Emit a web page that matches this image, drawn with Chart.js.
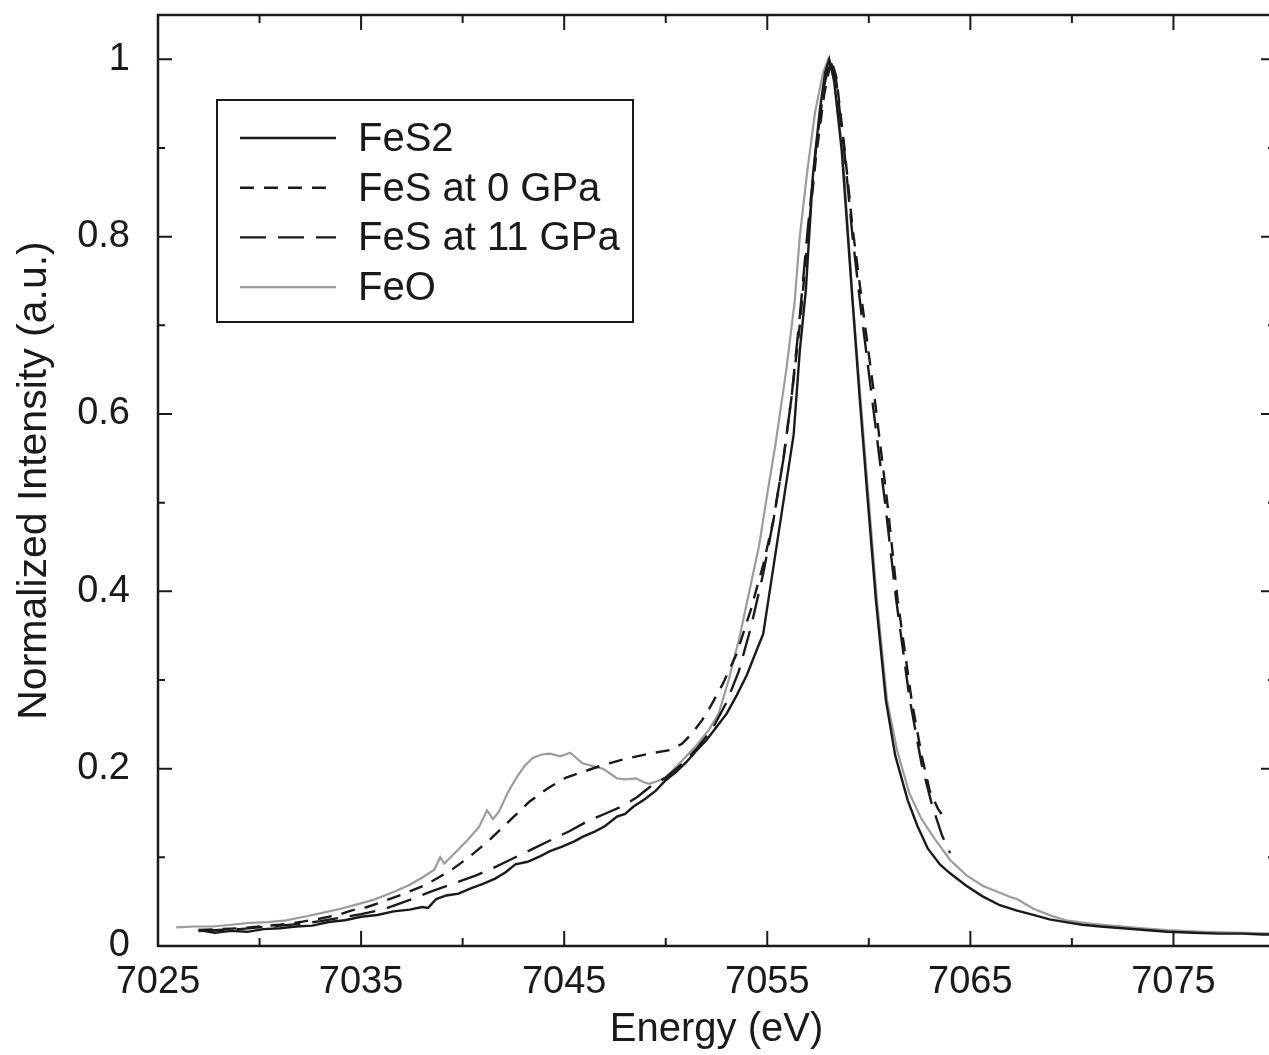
<!DOCTYPE html>
<html>
<head>
<meta charset="utf-8">
<script src="https://cdn.jsdelivr.net/npm/chart.js@4.4.1/dist/chart.umd.min.js"></script>
<style>
  html, body { margin: 0; padding: 0; background: #fff; overflow: hidden; }
  #wrap { width: 1290px; height: 1055px; }
</style>
</head>
<body>
<div id="wrap"><canvas id="xanes" width="1290" height="1055"></canvas></div>
<script>
// tick values / labels
const xTicks = [7025, 7035, 7045, 7055, 7065, 7075];
const yTicks = [0, 0.2, 0.4, 0.6, 0.8, 1];
const yTickLabels = ['0', '0.2', '0.4', '0.6', '0.8', '1'];

const seriesNames = ['FeS2', 'FeS at 0 GPa', 'FeS at 11 GPa', 'FeO'];

// [energy eV, normalized intensity]
const feS2Points = [
  [7027.0,0.018],[7027.8,0.015],[7028.6,0.017],[7029.4,0.016],[7030.2,0.019],[7031.0,0.020],
  [7031.8,0.022],[7032.6,0.023],[7033.4,0.027],[7034.2,0.029],[7035.0,0.033],[7035.8,0.035],
  [7036.6,0.039],[7037.4,0.041],[7038.0,0.044],[7038.3,0.043],[7038.7,0.053],[7039.2,0.057],
  [7039.8,0.059],[7040.4,0.065],[7041.0,0.070],[7041.6,0.076],[7042.1,0.083],[7042.6,0.092],
  [7043.2,0.095],[7043.8,0.101],[7044.3,0.107],[7044.9,0.112],[7045.5,0.118],[7045.9,0.123],
  [7046.5,0.129],[7047.0,0.135],[7047.6,0.146],[7048.0,0.149],[7048.4,0.157],[7049.0,0.166],
  [7049.5,0.175],[7050.0,0.187],[7050.5,0.196],[7051.0,0.207],[7051.5,0.220],[7052.0,0.232],
  [7052.5,0.247],[7053.0,0.262],[7053.5,0.283],[7054.0,0.306],[7054.5,0.335],[7054.8,0.352],
  [7055.3,0.427],[7055.8,0.502],[7056.3,0.577],[7056.6,0.671],[7056.9,0.740],[7057.25,0.870],
  [7057.6,0.945],[7057.85,0.985],[7058.05,1.0],[7058.3,0.975],[7058.67,0.896],[7059.2,0.727],
  [7059.56,0.615],[7059.95,0.502],[7060.35,0.390],[7060.84,0.277],[7061.3,0.215],[7061.92,0.164],
  [7062.4,0.135],[7062.9,0.110],[7063.5,0.092],[7064.0,0.082],[7064.8,0.068],[7065.6,0.056],
  [7066.45,0.046],[7067.3,0.040],[7068.1,0.035],[7068.9,0.030],[7069.7,0.027],[7070.5,0.024],
  [7071.4,0.022],[7072.5,0.020],[7073.6,0.018],[7074.7,0.016],[7076.0,0.015],[7077.2,0.014],
  [7078.4,0.014],[7079.4,0.013],[7080.0,0.013]
];

const feS0Points = [
  [7027.0,0.018],[7028.0,0.019],[7029.0,0.020],[7030.0,0.022],[7031.0,0.024],[7032.0,0.027],
  [7033.0,0.031],[7034.0,0.036],[7034.5,0.040],[7035.3,0.044],[7036.05,0.050],[7037.0,0.058],
  [7038.1,0.068],[7039.4,0.085],[7040.3,0.100],[7041.3,0.119],[7042.3,0.141],[7043.3,0.163],
  [7044.2,0.178],[7045.1,0.190],[7046.0,0.197],[7046.9,0.204],[7048.0,0.211],[7049.2,0.217],
  [7050.2,0.221],[7050.8,0.228],[7051.3,0.240],[7051.8,0.255],[7052.2,0.270],[7052.8,0.295],
  [7053.5,0.330],[7054.2,0.380],[7054.8,0.430],[7055.3,0.480],[7055.8,0.550],[7056.2,0.620],
  [7056.6,0.700],[7057.0,0.800],[7057.4,0.890],[7057.8,0.960],[7058.15,1.0],[7058.4,0.980],
  [7058.8,0.900],[7059.2,0.810],[7059.66,0.727],[7060.3,0.615],[7060.9,0.502],[7061.42,0.390],
  [7062.11,0.277],[7062.6,0.215],[7063.0,0.175],[7063.4,0.155],[7063.7,0.145]
];

const feS11Points = [
  [7027.0,0.017],[7028.0,0.018],[7029.0,0.019],[7030.0,0.021],[7031.0,0.023],[7032.0,0.025],
  [7033.0,0.028],[7034.0,0.032],[7035.0,0.036],[7036.05,0.041],[7037.4,0.052],[7038.5,0.062],
  [7039.5,0.070],[7040.7,0.080],[7041.5,0.088],[7042.5,0.099],[7043.4,0.109],[7044.3,0.119],
  [7045.3,0.130],[7046.25,0.142],[7047.1,0.150],[7047.9,0.158],[7048.6,0.168],[7049.2,0.179],
  [7050.0,0.190],[7050.8,0.205],[7051.5,0.222],[7052.3,0.245],[7053.0,0.275],[7053.6,0.310],
  [7054.2,0.360],[7054.8,0.420],[7055.3,0.480],[7055.8,0.550],[7056.2,0.620],[7056.6,0.710],
  [7057.0,0.810],[7057.4,0.900],[7057.8,0.970],[7058.1,1.0],[7058.4,0.975],[7058.8,0.895],
  [7059.2,0.800],[7059.6,0.720],[7060.2,0.610],[7060.8,0.500],[7061.35,0.390],[7062.0,0.280],
  [7062.6,0.205],[7063.1,0.160],[7063.6,0.125],[7064.0,0.105]
];

const feOPoints = [
  [7025.9,0.021],[7026.8,0.022],[7027.7,0.022],[7028.6,0.024],[7029.5,0.026],[7030.4,0.027],
  [7031.3,0.029],[7032.2,0.033],[7033.2,0.038],[7034.0,0.042],[7034.8,0.047],[7035.6,0.052],
  [7036.5,0.060],[7037.3,0.068],[7038.0,0.077],[7038.6,0.086],[7038.9,0.100],[7039.1,0.093],
  [7039.75,0.108],[7040.3,0.121],[7040.8,0.134],[7041.2,0.153],[7041.5,0.143],[7041.8,0.152],
  [7042.2,0.172],[7042.65,0.190],[7043.05,0.203],[7043.45,0.212],[7043.9,0.216],[7044.3,0.217],
  [7044.8,0.214],[7045.3,0.218],[7045.6,0.212],[7045.9,0.206],[7046.4,0.203],[7046.9,0.200],
  [7047.3,0.194],[7047.6,0.189],[7048.0,0.188],[7048.55,0.189],[7048.9,0.185],[7049.2,0.183],
  [7049.6,0.186],[7050.0,0.190],[7050.8,0.209],[7051.5,0.226],[7052.1,0.243],[7052.6,0.262],
  [7053.1,0.300],[7053.6,0.345],[7054.1,0.398],[7054.6,0.452],[7055.0,0.510],[7055.4,0.565],
  [7055.95,0.652],[7056.35,0.727],[7056.6,0.800],[7056.95,0.870],[7057.35,0.940],[7057.75,0.985],
  [7058.0,1.0],[7058.25,0.980],[7058.7,0.900],[7059.2,0.730],[7059.6,0.615],[7060.0,0.502],
  [7060.4,0.390],[7060.9,0.277],[7061.4,0.220],[7062.0,0.172],[7062.6,0.143],[7063.3,0.119],
  [7064.0,0.097],[7064.8,0.080],[7065.6,0.068],[7066.45,0.060],[7067.0,0.055],[7067.3,0.053],
  [7068.1,0.042],[7069.0,0.034],[7069.7,0.029],[7071.0,0.025],[7072.5,0.022],[7073.5,0.020],
  [7074.7,0.018],[7076.5,0.016],[7078.0,0.015],[7080.0,0.014]
];

const FONT = '"Liberation Sans", Arial, sans-serif';
const INK = '#1a1a1a';

const toXY = pts => pts.map(p => ({ x: p[0], y: p[1] }));

const datasets = [
  { label: seriesNames[0], data: toXY(feS2Points), borderColor: INK, borderWidth: 2.4, borderDash: [] },
  { label: seriesNames[1], data: toXY(feS0Points), borderColor: INK, borderWidth: 2.4, borderDash: [14, 10] },
  { label: seriesNames[2], data: toXY(feS11Points), borderColor: INK, borderWidth: 2.4, borderDash: [26, 12] },
  { label: seriesNames[3], data: toXY(feOPoints), borderColor: '#9c9c9c', borderWidth: 2.2, borderDash: [] }
];

// frame + inward ticks on all four sides
const framePlugin = {
  id: 'frame',
  afterDraw(chart) {
    const { ctx, chartArea: a, scales } = chart;
    ctx.save();
    ctx.strokeStyle = INK;
    ctx.lineWidth = 2.5;
    ctx.strokeRect(a.left, a.top, a.right - a.left, a.bottom - a.top);
    ctx.lineWidth = 2;
    ctx.beginPath();
    for (let e = 7025; e <= 7080; e += 5) {
      const px = scales.x.getPixelForValue(e);
      const len = (e - 7025) % 10 === 0 ? 15 : 8;
      ctx.moveTo(px, a.bottom); ctx.lineTo(px, a.bottom - len);
      ctx.moveTo(px, a.top); ctx.lineTo(px, a.top + len);
    }
    for (let i = 0; i <= 10; i++) {
      const py = scales.y.getPixelForValue(i / 10);
      const len = i % 2 === 0 ? 14 : 7;
      ctx.moveTo(a.left, py); ctx.lineTo(a.left + len, py);
      ctx.moveTo(a.right, py); ctx.lineTo(a.right - len, py);
    }
    ctx.stroke();
    ctx.restore();
  }
};

// boxed legend inside the plot, upper left
const boxLegend = {
  id: 'boxLegend',
  afterDraw(chart) {
    const { ctx, chartArea: a } = chart;
    const bx = a.left + 59, by = a.top + 85, bw = 416, bh = 222;
    ctx.save();
    ctx.fillStyle = '#fff';
    ctx.fillRect(bx, by, bw, bh);
    ctx.strokeStyle = INK;
    ctx.lineWidth = 2;
    ctx.strokeRect(bx, by, bw, bh);
    chart.data.datasets.forEach((ds, i) => {
      const ry = by + 38 + i * 49.7;
      ctx.beginPath();
      ctx.setLineDash(ds.borderDash);
      ctx.strokeStyle = ds.borderColor;
      ctx.lineWidth = ds.borderWidth;
      ctx.moveTo(bx + 23, ry);
      ctx.lineTo(bx + 119, ry);
      ctx.stroke();
      ctx.setLineDash([]);
      ctx.fillStyle = INK;
      ctx.font = '40px ' + FONT;
      ctx.textBaseline = 'middle';
      ctx.textAlign = 'left';
      ctx.fillText(ds.label, bx + 141, ry + 2);
    });
    ctx.restore();
  }
};

new Chart(document.getElementById('xanes'), {
  type: 'line',
  data: { datasets },
  options: {
    responsive: false,
    animation: false,
    devicePixelRatio: 1,
    parsing: true,
    elements: { point: { radius: 0 }, line: { tension: 0, fill: false } },
    layout: { padding: { top: 15, right: 15, left: 0, bottom: 0 } },
    plugins: { legend: { display: false }, tooltip: { enabled: false } },
    scales: {
      x: {
        type: 'linear', min: 7025, max: 7080,
        grid: { display: false, drawTicks: false },
        border: { display: false },
        afterBuildTicks: s => { s.ticks = xTicks.map(v => ({ value: v })); },
        afterFit: s => { s.height = 109; s.paddingLeft = 0; s.paddingRight = 0; },
        ticks: { padding: 14, autoSkip: false, maxRotation: 0, color: INK,
                 font: { family: FONT, size: 38 }, callback: v => String(v) },
        title: { display: true, text: 'Energy (eV)', color: INK,
                 font: { family: FONT, size: 40 }, padding: { top: 0, bottom: 1 } }
      },
      y: {
        type: 'linear', min: 0, max: 1.05,
        grid: { display: false, drawTicks: false },
        border: { display: false },
        afterBuildTicks: s => { s.ticks = yTicks.map(v => ({ value: v })); },
        afterFit: s => { s.width = 158; s.paddingTop = 0; s.paddingBottom = 0; },
        ticks: { padding: 28, color: INK, font: { family: FONT, size: 38 },
                 callback: (v, i) => yTickLabels[i] },
        title: { display: true, text: 'Normalized Intensity (a.u.)', color: INK,
                 font: { family: FONT, size: 41 }, padding: { top: 10, bottom: 0 } }
      }
    }
  },
  plugins: [framePlugin, boxLegend]
});
</script>
</body>
</html>
